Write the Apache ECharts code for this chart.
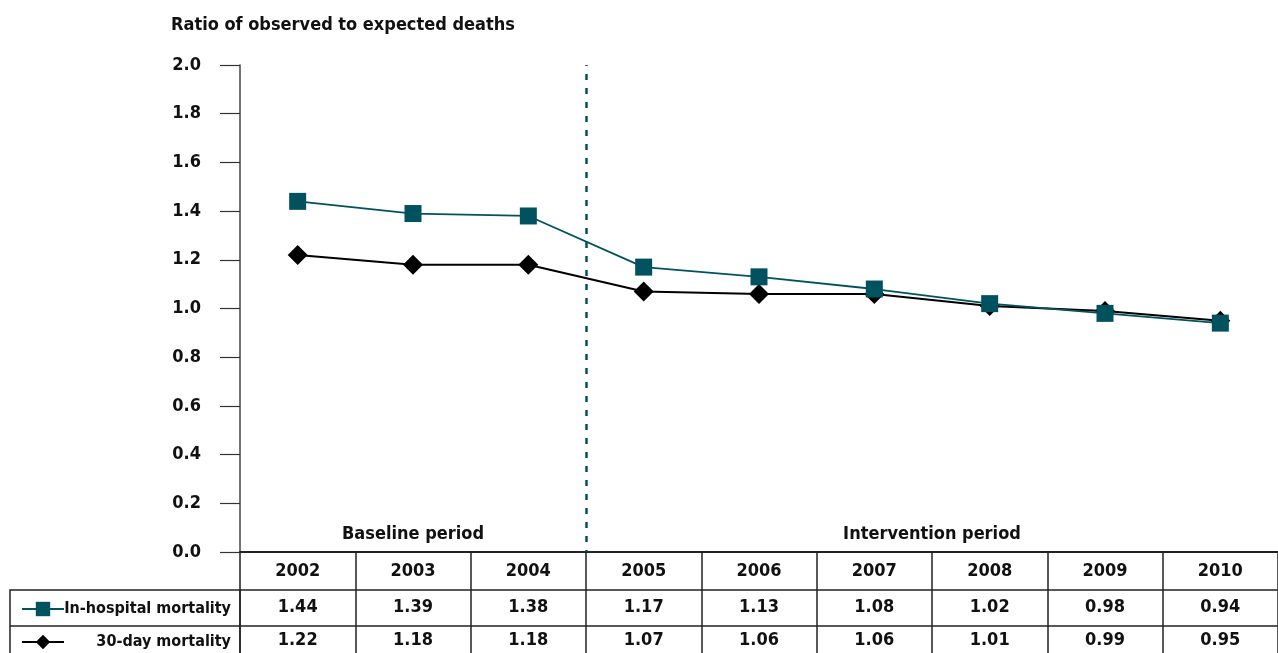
<!DOCTYPE html>
<html>
<head>
<meta charset="utf-8">
<script src="https://cdn.jsdelivr.net/npm/echarts@6/dist/echarts.min.js"></script>
<style>
html,body{margin:0;padding:0;background:#fff;}
#chart{width:1278px;height:653px;}
</style>
</head>
<body>
<div id="chart"></div>
<script>
var years = ['2002','2003','2004','2005','2006','2007','2008','2009','2010'];
var inHospital = [1.44, 1.39, 1.38, 1.17, 1.13, 1.08, 1.02, 0.98, 0.94];
var thirtyDay = [1.22, 1.18, 1.18, 1.07, 1.06, 1.06, 1.01, 0.99, 0.95];
var yTicks = [0, 0.2, 0.4, 0.6, 0.8, 1.0, 1.2, 1.4, 1.6, 1.8, 2.0];
var periods = ['Baseline period', 'Intervention period'];
var interventionStart = 3; // boundary between 2004 and 2005
var seriesNames = ['In-hospital mortality', '30-day mortality'];
var yTitle = 'Ratio of observed to expected deaths';

var FONT = '"DejaVu Sans Condensed", "Liberation Sans Narrow", Arial, sans-serif';
var TEAL = '#00525E';
var txt = {fontFamily: FONT, fontWeight: 'bold', fontSize: 18, color: '#111'};

function legendFor(name, top) {
  return {
    data: [name],
    orient: 'horizontal',
    left: 16, top: top,
    itemWidth: 42, itemHeight: 18,
    formatter: function (n) { return '{a|' + n + '}'; },
    textStyle: {
      rich: {a: {fontFamily: FONT, fontWeight: 'bold', fontSize: 16, color: '#111', width: 162, align: 'right'}}
    }
  };
}

var chart = echarts.init(document.getElementById('chart'), null, {renderer: 'canvas'});
var option = {
  animation: false,
  backgroundColor: '#fff',
  title: {
    text: yTitle,
    left: 166, top: 11,
    textStyle: Object.assign({}, txt)
  },
  grid: {left: 240, right: 0, top: 65, bottom: 101, containLabel: false},
  legend: [legendFor(seriesNames[0], 596), legendFor(seriesNames[1], 629)],
  xAxis: [
    {
      type: 'category', data: years, boundaryGap: true, position: 'bottom', offset: 0,
      axisLine: {show: true, lineStyle: {color: '#222', width: 2}},
      axisTick: {show: true, interval: 0, length: 101, lineStyle: {color: '#222', width: 1.5}},
      axisLabel: Object.assign({interval: 0, margin: 10}, txt)
    },
    {
      type: 'category', data: inHospital.map(function (v) { return v.toFixed(2); }), boundaryGap: true,
      position: 'bottom', offset: 38,
      axisLine: {show: true, lineStyle: {color: '#222', width: 1.5}},
      axisTick: {show: false},
      axisLabel: Object.assign({interval: 0, margin: 8}, txt)
    },
    {
      type: 'category', data: thirtyDay.map(function (v) { return v.toFixed(2); }), boundaryGap: true,
      position: 'bottom', offset: 74,
      axisLine: {show: true, lineStyle: {color: '#222', width: 1.5}},
      axisTick: {show: false},
      axisLabel: Object.assign({interval: 0, margin: 5}, txt)
    },
    {
      type: 'value', min: 0, max: years.length, show: false
    }
  ],
  yAxis: {
    type: 'value', min: yTicks[0], max: yTicks[yTicks.length - 1], interval: 0.2,
    axisLine: {show: true, lineStyle: {color: '#444', width: 1.5}},
    axisTick: {show: true, inside: false, length: 20, lineStyle: {color: '#333', width: 1.2}},
    splitLine: {show: false},
    axisLabel: Object.assign({margin: 39, formatter: function (v) { return v.toFixed(1); }}, txt)
  },
  series: [
    {
      name: seriesNames[1], type: 'line', data: thirtyDay, xAxisIndex: 0,
      symbol: 'diamond', symbolSize: 20,
      lineStyle: {color: '#000', width: 2},
      itemStyle: {color: '#000'},
      z: 3
    },
    {
      name: seriesNames[0], type: 'line', data: inHospital, xAxisIndex: 0,
      symbol: 'rect', symbolSize: 17,
      lineStyle: {color: TEAL, width: 1.8},
      itemStyle: {color: TEAL},
      z: 4
    },
    {
      type: 'line', data: [], xAxisIndex: 3, silent: true,
      markLine: {
        silent: true, symbol: 'none',
        label: {show: false},
        lineStyle: {color: TEAL, width: 2.5, type: [6, 8], dashOffset: 4},
        data: [{xAxis: interventionStart}]
      },
      markArea: {
        silent: true,
        itemStyle: {color: 'rgba(0,0,0,0)'},
        label: Object.assign({show: true, position: 'insideBottom', distance: 9}, txt),
        data: [
          [{name: periods[0], xAxis: 0}, {xAxis: interventionStart}],
          [{name: periods[1], xAxis: interventionStart}, {xAxis: years.length}]
        ]
      }
    }
  ],
  graphic: [
    {
      type: 'rect', silent: true,
      shape: {x: 10, y: 590, width: 230, height: 80},
      style: {fill: 'none', stroke: '#222', lineWidth: 1.5}
    },
    {
      type: 'line', silent: true,
      shape: {x1: 10, y1: 626, x2: 240, y2: 626},
      style: {stroke: '#222', lineWidth: 1.5}
    }
  ]
};
chart.setOption(option);
</script>
</body>
</html>
